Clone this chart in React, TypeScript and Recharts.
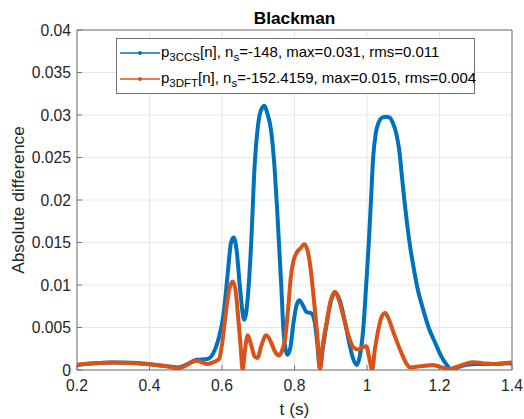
import { CartesianGrid, Label, Legend, Line, LineChart, XAxis, YAxis } from "recharts";

// time stamps (s) and absolute differences
const BLUE_T = [
  0.2, 0.25, 0.3, 0.35, 0.4, 0.45, 0.48, 0.5, 0.53, 0.56,
  0.575, 0.59, 0.605, 0.615, 0.625, 0.632, 0.64, 0.65, 0.661, 0.67,
  0.68, 0.69, 0.7, 0.71, 0.717, 0.725, 0.735, 0.745, 0.752, 0.757,
  0.764, 0.769, 0.775, 0.78, 0.788, 0.797, 0.805, 0.813, 0.822, 0.834,
  0.846, 0.855, 0.862, 0.87, 0.878, 0.889, 0.9, 0.912, 0.925, 0.94,
  0.952, 0.962, 0.972, 0.98, 0.99, 0.997, 1.005, 1.011, 1.017, 1.024,
  1.032, 1.042, 1.052, 1.063, 1.072, 1.082, 1.09, 1.096, 1.103, 1.109,
  1.118, 1.128, 1.14, 1.155, 1.17, 1.188, 1.205, 1.22, 1.234, 1.25,
  1.275, 1.3, 1.35, 1.4,
];
const BLUE_V = [
  0.0006, 0.0008, 0.00088, 0.00085, 0.00068, 0.00045, 0.0003, 0.0006, 0.0012, 0.0013,
  0.0019, 0.0036, 0.0068, 0.011, 0.015, 0.0156, 0.0142, 0.0095, 0.0059, 0.008,
  0.0145, 0.024, 0.029, 0.0308, 0.0311, 0.0302, 0.0283, 0.0238, 0.019, 0.015,
  0.0095, 0.005, 0.0025, 0.0018, 0.0025, 0.0055, 0.0075, 0.0082, 0.0077, 0.0068,
  0.0067, 0.0058, 0.0035, 0.0002, 0.0025, 0.0055, 0.008, 0.0091, 0.0082, 0.0055,
  0.003, 0.0013, 0.0006, 0.0016, 0.005, 0.0095, 0.015, 0.02, 0.025, 0.0278,
  0.0291, 0.0297, 0.0298, 0.0297, 0.029, 0.0276, 0.0255, 0.0229, 0.02, 0.0178,
  0.0148, 0.0122, 0.0095, 0.0071, 0.005, 0.0032, 0.0016, 0.0006, 0, 0.0003,
  0.0006, 0.0007, 0.0007, 0.0008,
];

const ORANGE_T = [
  0.2, 0.25, 0.3, 0.35, 0.4, 0.45, 0.479, 0.5, 0.515, 0.53,
  0.545, 0.558, 0.575, 0.592, 0.6, 0.61, 0.62, 0.63, 0.638, 0.645,
  0.651, 0.657, 0.663, 0.671, 0.68, 0.69, 0.698, 0.708, 0.722, 0.735,
  0.747, 0.757, 0.765, 0.775, 0.783, 0.79, 0.797, 0.806, 0.816, 0.827,
  0.835, 0.843, 0.85, 0.857, 0.864, 0.87, 0.878, 0.889, 0.9, 0.912,
  0.923, 0.935, 0.948, 0.962, 0.976, 0.988, 0.998, 1.006, 1.014, 1.022,
  1.031, 1.042, 1.05, 1.06, 1.07, 1.082, 1.095, 1.108, 1.119, 1.14,
  1.16, 1.18, 1.2, 1.224, 1.25, 1.27, 1.293, 1.32, 1.348, 1.375,
  1.4,
];
const ORANGE_V = [
  0.0006, 0.0008, 0.00088, 0.00082, 0.00067, 0.0004, 0.0002, 0.0005, 0.0009, 0.0011,
  0.0009, 0.0007, 0.0009, 0.0013, 0.003, 0.0065, 0.0095, 0.0104, 0.0092, 0.006,
  0.003, 0, 0.0022, 0.0041, 0.003, 0.0016, 0.0014, 0.0028, 0.0041, 0.0033,
  0.0021, 0.0017, 0.0022, 0.004, 0.0075, 0.011, 0.0128, 0.0138, 0.0143, 0.0148,
  0.0142, 0.0124, 0.0098, 0.0068, 0.0035, 0, 0.003, 0.0057, 0.0082, 0.0092,
  0.0082, 0.0063, 0.0042, 0.0027, 0.0024, 0.0027, 0.0028, 0.0015, 0, 0.0025,
  0.0047, 0.0064, 0.0067, 0.006, 0.0048, 0.0034, 0.002, 0.0008, 0.0003, 0.0004,
  0.0005, 0.0006, 0.0004, 0.0001, 0.0004, 0.0007, 0.0009, 0.0008, 0.0007, 0.0008,
  0.0009,
];

const X_TICKS = [0.2, 0.4, 0.6, 0.8, 1, 1.2, 1.4];
const Y_TICKS = [0, 0.005, 0.01, 0.015, 0.02, 0.025, 0.03, 0.035, 0.04];

const LEGEND_SUB = ["3CCS", "3DFT"];
const LEGEND_NS = ["-148", "-152.4159"];
const LEGEND_MAX = ["0.031", "0.015"];
const LEGEND_RMS = ["0.011", "0.004"];

const BLUE = "#0072BD";
const ORANGE = "#D95319";
const COLORS = [BLUE, ORANGE];
const FONT = "'Liberation Sans', Arial, Helvetica, sans-serif";
const INK = "#262626";
const AXIS = "#737373";
const TICK = { fontSize: 15.7, fill: INK, fontFamily: FONT };
const LABEL_STYLE = { fontSize: 17.3, fill: INK, fontFamily: FONT };

const blueData = BLUE_T.map((t, i) => ({ t, v: BLUE_V[i] }));
const orangeData = ORANGE_T.map((t, i) => ({ t, v: ORANGE_V[i] }));

const noTick = () => <g />;

function LegendBox() {
  return (
    <div
      style={{
        width: 357,
        height: 53,
        border: `1px solid ${AXIS}`,
        background: "#fff",
        fontFamily: FONT,
        fontSize: 15,
        color: "#000",
        paddingTop: 1,
        boxSizing: "content-box",
      }}
    >
      {LEGEND_SUB.map((sub, i) => (
        <div key={sub} style={{ display: "flex", alignItems: "center", height: 26, whiteSpace: "nowrap" }}>
          <svg width={44} height={10} style={{ flex: "none" }}>
            <line x1={3} x2={43} y1={5} y2={5} stroke={COLORS[i]} strokeWidth={1.5} />
            <circle cx={23} cy={5} r={2} fill={COLORS[i]} />
          </svg>
          <span>
            p<sub style={{ fontSize: 11.5, verticalAlign: -4 }}>{sub}</sub>[n], n
            <sub style={{ fontSize: 11.5, verticalAlign: -4 }}>s</sub>={LEGEND_NS[i]}, max={LEGEND_MAX[i]}, rms=
            {LEGEND_RMS[i]}
          </span>
        </div>
      ))}
    </div>
  );
}

export default function App() {
  return (
    <div style={{ position: "absolute", left: 0, top: 0, background: "#fff" }}>
      <LineChart width={524} height={419} margin={{ top: 29, right: 11, bottom: 0, left: 0 }}>
        <CartesianGrid xAxisId="x" yAxisId="y" stroke="#e6e6e6" />
        <XAxis
          xAxisId="x"
          dataKey="t"
          type="number"
          domain={[0.2, 1.4]}
          ticks={X_TICKS}
          allowDataOverflow
          height={49}
          tickSize={-5}
          tickMargin={15}
          tick={TICK}
          stroke={AXIS}
          tickFormatter={(v: number) => String(v)}
        >
          <Label value="t (s)" position="insideBottom" offset={4} style={LABEL_STYLE} />
        </XAxis>
        <XAxis
          xAxisId="xt"
          orientation="top"
          dataKey="t"
          type="number"
          domain={[0.2, 1.4]}
          ticks={X_TICKS}
          height={1}
          tickSize={-5}
          tick={noTick}
          stroke={AXIS}
        >
          <Label
            value="Blackman"
            position="top"
            offset={5}
            style={{ ...LABEL_STYLE, fontWeight: "bold", fill: "#000" }}
          />
        </XAxis>
        <YAxis
          yAxisId="y"
          type="number"
          domain={[0, 0.04]}
          ticks={Y_TICKS}
          allowDataOverflow
          width={77}
          tickSize={-5}
          tickMargin={11}
          tick={TICK}
          stroke={AXIS}
          tickFormatter={(v: number) => String(v)}
        >
          <Label
            value="Absolute difference"
            angle={-90}
            position="insideLeft"
            offset={18}
            style={{ ...LABEL_STYLE, textAnchor: "middle" }}
          />
        </YAxis>
        <YAxis
          yAxisId="yr"
          orientation="right"
          type="number"
          domain={[0, 0.04]}
          ticks={Y_TICKS}
          width={1}
          tickSize={-5}
          tick={noTick}
          stroke={AXIS}
        />
        <Legend
          layout="vertical"
          align="center"
          verticalAlign="middle"
          content={() => <LegendBox />}
          wrapperStyle={{ left: 116, top: 38, width: 359, height: 55 }}
        />
        <Line
          xAxisId="x"
          yAxisId="y"
          data={blueData}
          dataKey="v"
          type="monotone"
          stroke={BLUE}
          strokeWidth={4}
          dot={false}
          isAnimationActive={false}
        />
        <Line
          xAxisId="x"
          yAxisId="y"
          data={orangeData}
          dataKey="v"
          type="monotone"
          stroke={ORANGE}
          strokeWidth={4}
          dot={false}
          isAnimationActive={false}
        />
      </LineChart>
    </div>
  );
}
